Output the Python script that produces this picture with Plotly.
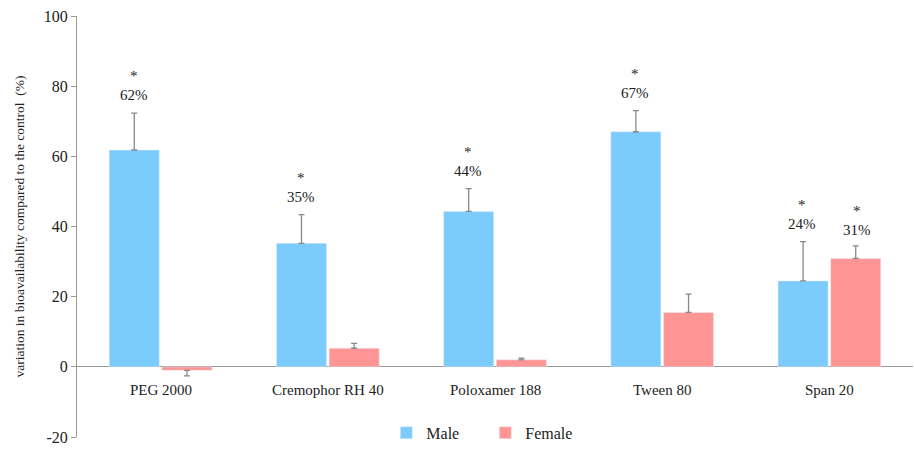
import plotly.graph_objects as go

categories = ["PEG 2000", "Cremophor RH 40", "Poloxamer 188", "Tween 80", "Span 20"]
male = [61.8, 35.2, 44.3, 67.0, 24.5]
male_err = [10.5, 8.2, 6.5, 6.0, 11.2]
female = [-1.0, 5.3, 2.0, 15.5, 30.9]
female_err = [1.6, 1.4, 0.5, 5.2, 3.6]
male_labels = ["62%", "35%", "44%", "67%", "24%"]
female_labels = [None, None, None, None, "31%"]
y_ticks = [-20, 0, 20, 40, 60, 80, 100]
y_tick_text = ["-20", "0", "20", "40", "60", "80", "100"]

MALE_C = "#7BCBFD"
FEMALE_C = "#FF9595"
FONT = "Liberation Serif"

fig = go.Figure()
fig.add_trace(go.Bar(
    name="Male", x=categories, y=male, marker_color=MALE_C,
    error_y=dict(type="data", symmetric=False, array=male_err, arrayminus=[0]*5,
                 color="#888888", thickness=1.3, width=3),
))
fig.add_trace(go.Bar(
    name="Female", x=categories, y=female, marker_color=FEMALE_C,
    error_y=dict(type="data", symmetric=False,
                 array=[e if v >= 0 else 0 for v, e in zip(female, female_err)],
                 arrayminus=[e if v < 0 else 0 for v, e in zip(female, female_err)],
                 color="#888888", thickness=1.3, width=3),
))

annotations = []
for i, c in enumerate(categories):
    if male_labels[i]:
        top = male[i] + male_err[i]
        annotations.append(dict(x=c, y=top, xref="x", yref="y", text=male_labels[i],
                                showarrow=False, xshift=-27, yshift=18,
                                font=dict(family=FONT, size=15, color="#222")))
        annotations.append(dict(x=c, y=top, xref="x", yref="y", text="*",
                                showarrow=False, xshift=-27, yshift=37,
                                font=dict(family=FONT, size=15, color="#222")))
    if female_labels[i]:
        top = female[i] + female_err[i]
        annotations.append(dict(x=c, y=top, xref="x", yref="y", text=female_labels[i],
                                showarrow=False, xshift=28, yshift=16,
                                font=dict(family=FONT, size=15, color="#222")))
        annotations.append(dict(x=c, y=top, xref="x", yref="y", text="*",
                                showarrow=False, xshift=28, yshift=35,
                                font=dict(family=FONT, size=15, color="#222")))
    annotations.append(dict(x=c, y=0, xref="x", yref="y", text=c, showarrow=False,
                            yanchor="top", yshift=-13,
                            font=dict(family=FONT, size=15, color="#222")))

fig.update_layout(
    width=914, height=451,
    margin=dict(l=77, r=1, t=16, b=11),
    plot_bgcolor="white", paper_bgcolor="white",
    barmode="group", bargap=0.37, bargroupgap=0.05,
    font=dict(family=FONT, size=15, color="#222"),
    showlegend=True,
    legend=dict(orientation="h", x=0.37, xanchor="left", y=0.01, yanchor="middle",
                font=dict(family=FONT, size=16, color="#222"), itemwidth=30,
                entrywidth=54, entrywidthmode="pixels",
                bgcolor="rgba(0,0,0,0)"),
    annotations=annotations,
    xaxis=dict(showticklabels=False, showline=False, ticks="", showgrid=False,
               automargin=False),
    yaxis=dict(range=[-20, 100], tickvals=y_ticks, ticktext=y_tick_text,
               showgrid=False, zeroline=True, automargin=False,
               zerolinecolor="#999999", zerolinewidth=1.3,
               showline=True, linecolor="#999999", linewidth=1,
               ticks="outside", ticklen=5, tickcolor="#999999",
               tickfont=dict(family=FONT, size=16, color="#222"),
               title=dict(text="variation in bioavailability compared to the control  (%)",
                          font=dict(family=FONT, size=13.5, color="#222"), standoff=16)),
)

fig.write_html("out.html", config={"displayModeBar": False},
               post_script="document.body.style.margin='0px';document.body.style.overflow='hidden';")
